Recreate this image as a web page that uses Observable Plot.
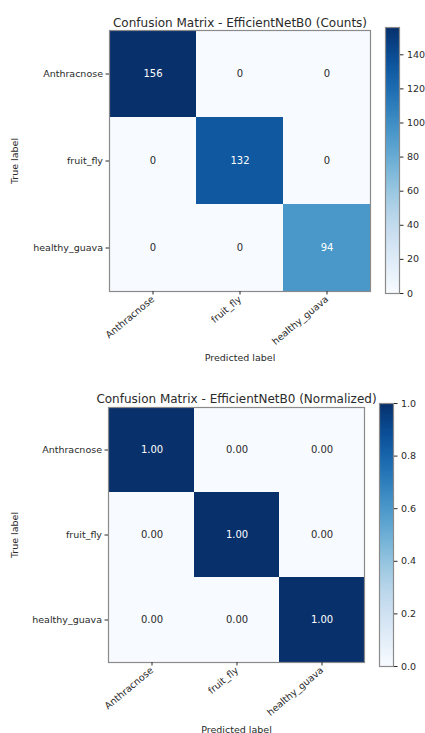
<!DOCTYPE html>
<html>
<head>
<meta charset="utf-8">
<script src="https://cdn.jsdelivr.net/npm/d3@7"></script>
<script src="https://cdn.jsdelivr.net/npm/@observablehq/plot@0.6"></script>
<style>
  body { margin: 0; background: white; }
  #root { position: relative; width: 425px; height: 733px; overflow: hidden; background: white; }
  #root svg { position: absolute; }
</style>
</head>
<body>
<div id="root"></div>
<script>
const classes = ["Anthracnose", "fruit_fly", "healthy_guava"];
const counts = [[156, 0, 0], [0, 132, 0], [0, 0, 94]];
const normalized = [[1.00, 0.00, 0.00], [0.00, 1.00, 0.00], [0.00, 0.00, 1.00]];
const countTicks = [0, 20, 40, 60, 80, 100, 120, 140];
const normTicks = [0.0, 0.2, 0.4, 0.6, 0.8, 1.0];
const titles = ["Confusion Matrix - EfficientNetB0 (Counts)", "Confusion Matrix - EfficientNetB0 (Normalized)"];

const FONT = "DejaVu Sans, sans-serif";
const root = document.getElementById("root");

function toCells(matrix) {
  const out = [];
  matrix.forEach((row, i) => row.forEach((v, j) => out.push({truth: classes[i], pred: classes[j], value: v})));
  return out;
}

function panel({matrix, title, fmt, vmax, ticks, tickFmt, top, height, m, cb}) {
  const data = toCells(matrix);
  const color = {type: "linear", scheme: "blues", domain: [0, vmax]};
  const heat = Plot.plot({
    width: 425, height,
    marginLeft: m.left, marginRight: m.right, marginTop: m.top, marginBottom: m.bottom,
    style: {fontFamily: FONT, fontSize: "9.5px", background: "transparent", overflow: "visible", color: "#2a2a2a"},
    x: {domain: classes, padding: 0, label: null},
    y: {domain: classes, padding: 0, label: null},
    color,
    marks: [
      Plot.cell(data, {x: "pred", y: "truth", fill: "value", inset: 0, shapeRendering: "crispEdges"}),
      Plot.text(data.filter(d => d.value > vmax / 2), {x: "pred", y: "truth", text: d => fmt(d.value), fill: "white", fontSize: 10}),
      Plot.text(data.filter(d => d.value <= vmax / 2), {x: "pred", y: "truth", text: d => fmt(d.value), fill: "#2a2a2a", fontSize: 10}),
      Plot.frame({stroke: "#8a8a8a", strokeWidth: 1.2}),
      Plot.axisX({anchor: "bottom", tickRotate: -40, tickSize: 3.5, tickPadding: 3, label: "Predicted label", labelAnchor: "center", labelArrow: "none", labelOffset: m.xLabel, fontSize: 9.5}),
      Plot.axisY({anchor: "left", tickSize: 3.5, tickPadding: 3, label: "True label", labelAnchor: "center", labelArrow: "none", labelOffset: m.yLabel, fontSize: 9.5}),
      Plot.text([title], {frameAnchor: "top", dy: m.titleDy, fontSize: 12, fill: "#2a2a2a", lineAnchor: "bottom"})
    ]
  });
  heat.style.left = "0px";
  heat.style.top = top + "px";
  root.appendChild(heat);

  const steps = 300;
  const bands = d3.range(steps).map(i => ({y1: vmax * i / steps, y2: vmax * (i + 1) / steps}));
  const bar = Plot.plot({
    width: cb.width + 40, height,
    marginLeft: 0, marginRight: 40, marginTop: cb.top, marginBottom: cb.bottom,
    style: {fontFamily: FONT, fontSize: "9.5px", background: "transparent", overflow: "visible", color: "#2a2a2a"},
    x: {domain: [0, 1], axis: null},
    y: {domain: [0, vmax], label: null},
    color,
    marks: [
      Plot.rect(bands, {x1: 0, x2: 1, y1: "y1", y2: "y2", fill: d => (d.y1 + d.y2) / 2, shapeRendering: "crispEdges"}),
      Plot.frame({stroke: "#8a8a8a", strokeWidth: 1.2}),
      Plot.axisY({anchor: "right", ticks, tickFormat: tickFmt, tickSize: 3.5, tickPadding: 4, label: null, fontSize: 9.5})
    ]
  });
  bar.style.left = cb.left + "px";
  bar.style.top = top + "px";
  root.appendChild(bar);
}

panel({
  matrix: counts, title: titles[0], fmt: v => String(v), vmax: 156,
  ticks: countTicks, tickFmt: d3.format("d"),
  top: 0, height: 370,
  m: {left: 109, right: 55, top: 30, bottom: 79, xLabel: 69, yLabel: 98, titleDy: -4},
  cb: {left: 385, width: 14, top: 27, bottom: 77}
});

panel({
  matrix: normalized, title: titles[1], fmt: d3.format(".2f"), vmax: 1,
  ticks: normTicks, tickFmt: d3.format(".1f"),
  top: 370, height: 363,
  m: {left: 108, right: 61, top: 37, bottom: 71, xLabel: 70, yLabel: 97, titleDy: -5},
  cb: {left: 379, width: 14, top: 33, bottom: 67}
});
</script>
</body>
</html>
